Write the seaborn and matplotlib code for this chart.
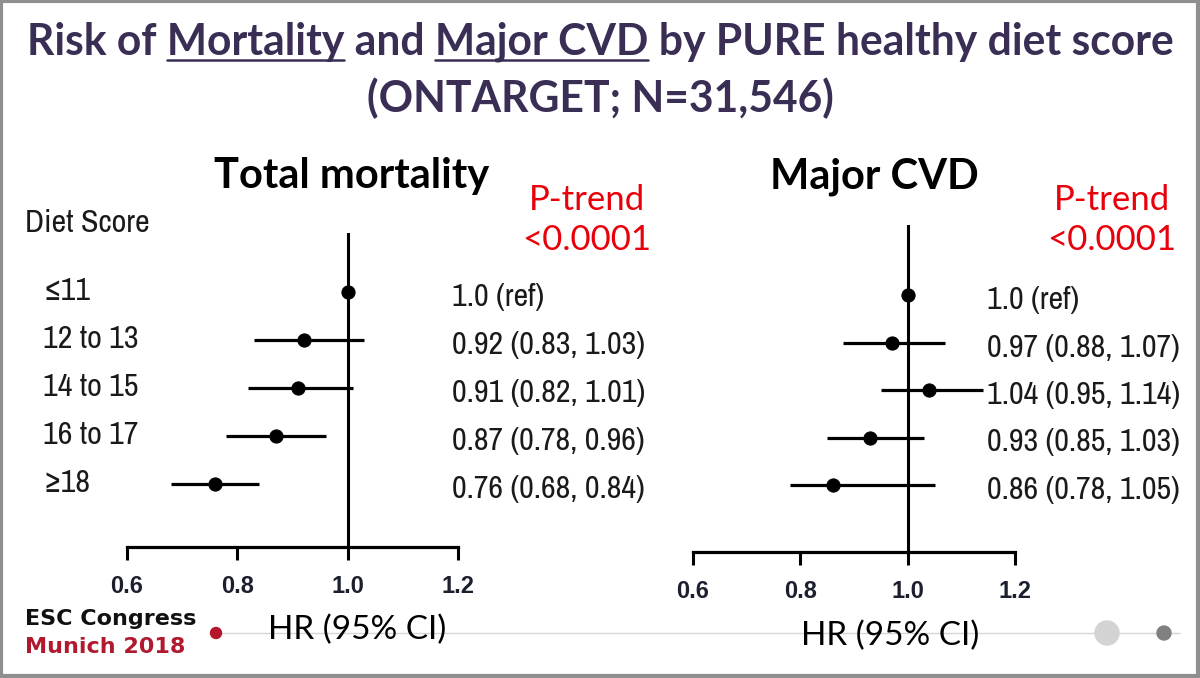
import os
import matplotlib
matplotlib.use("Agg")
import matplotlib.pyplot as plt
import matplotlib.transforms as mtransforms
import matplotlib.font_manager as fm
from matplotlib.font_manager import FontProperties
from matplotlib.patches import Rectangle, Circle
from matplotlib.lines import Line2D
import seaborn as sns
import pandas as pd

# ---------------- data ----------------
categories = ["\u226411", "12 to 13", "14 to 15", "16 to 17", "\u226518"]
mort_hr = [1.00, 0.92, 0.91, 0.87, 0.76]
mort_lo = [1.00, 0.83, 0.82, 0.78, 0.68]
mort_hi = [1.00, 1.03, 1.01, 0.96, 0.84]
cvd_hr = [1.00, 0.97, 1.04, 0.93, 0.86]
cvd_lo = [1.00, 0.88, 0.95, 0.85, 0.78]
cvd_hi = [1.00, 1.07, 1.14, 1.03, 1.05]
xticks = [0.6, 0.8, 1.0, 1.2]
xtick_labels = ["0.6", "0.8", "1.0", "1.2"]
title_line1 = "Risk of Mortality and Major CVD by PURE healthy diet score"
title_line2 = "(ONTARGET; N=31,546)"
underlined = ["Mortality", "Major CVD"]
panel_titles = ["Total mortality", "Major CVD"]
p_trend_lines = ["P-trend", "<0.0001"]
axis_caption = "HR (95% CI)"

sns.set_theme(style="white")
plt.rcParams["font.family"] = ["Lato", "DejaVu Sans"]

W, H = 1200, 678
fig = plt.figure(figsize=(12, 6.78), dpi=100)
fig.patch.set_facecolor("white")
renderer = fig.canvas.get_renderer()


def fx(x):
    return x / W


def fy(y):
    return 1 - y / H


def _weight(f):
    w = f.weight
    if isinstance(w, str):
        w = fm.weight_dict.get(w, 400)
    return int(w)


def measure_fp(s, fp):
    t = fig.text(0, 0, s, fontproperties=fp)
    w = t.get_window_extent(renderer).width
    t.remove()
    return w


def _sans_ok(f):
    base = os.path.basename(f.fname)
    bad = ("Serif", "Mono", "Slab", "Math", "CJK")
    return not any(b in f.name or b in base for b in bad)


def pick_regular(sample, size, target_w):
    """Pick an installed Arial-Narrow-like sans face whose width best fits."""
    cands, seen = [], set()
    for f in fm.fontManager.ttflist:
        base = os.path.basename(f.fname)
        narrowish = (f.stretch not in ("normal", 500)
                     or "Narrow" in f.name or "Narrow" in base
                     or "Condensed" in f.name or "Condensed" in base)
        if not (narrowish or f.name in ("Liberation Sans", "Roboto")):
            continue
        if not _sans_ok(f) or f.style != "normal" or abs(_weight(f) - 400) > 50:
            continue
        if f.fname in seen:
            continue
        seen.add(f.fname)
        cands.append(f)
    best, best_err, best_w = None, None, None
    for f in cands:
        try:
            w = measure_fp(sample, FontProperties(fname=f.fname, size=size))
        except Exception:
            continue
        err = abs(w - target_w)
        if best_err is None or err < best_err:
            best, best_err, best_w = f, err, w
    if best is None:
        fp = FontProperties(family="Liberation Sans", size=size)
        best_w = measure_fp(sample, fp)
    else:
        fp = FontProperties(fname=best.fname, size=size)
    fp.set_size(size * max(0.85, min(1.1, target_w / best_w)))
    return fp, best


def pick_bold_like(entry, sample, size, target_w):
    fp = None
    if entry is not None:
        for f in fm.fontManager.ttflist:
            if (f.name == entry.name and f.style == "normal"
                    and f.stretch == entry.stretch and 700 <= _weight(f) <= 750):
                fp = FontProperties(fname=f.fname, size=size)
                break
    if fp is None:
        fp = FontProperties(family="Liberation Sans", weight="bold", size=size)
    w = measure_fp(sample, fp)
    fp.set_size(size * max(0.8, min(1.1, target_w / w)))
    return fp


FP_VAL, _entry = pick_regular("0.92 (0.83, 1.03)", 23, 193)
FP_TICK = pick_bold_like(_entry, "0.6 0.8 1.0", 15.5, 113)
TITLE_COL = "#3a2e55"


def value_text(hr, lo, hi, i):
    if i == 0:
        return "1.0 (ref)"
    return f"{hr:.2f} ({lo:.2f}, {hi:.2f})"


def make_panel(left_px, right_px, top_px, bottom_px, row0_px, row4_px,
               hr, lo, hi, values_x_px, show_labels):
    ax = fig.add_axes([fx(left_px), fy(bottom_px),
                       (right_px - left_px) / W, (bottom_px - top_px) / H])
    step = (row4_px - row0_px) / 4.0
    y_top = -(row0_px - top_px) / step
    y_bot = 4 + (bottom_px - row4_px) / step
    df = pd.DataFrame({"row": range(len(categories)), "hr": hr,
                       "lo": lo, "hi": hi, "cat": categories})
    ax.hlines(df["row"], df["lo"], df["hi"], color="black", lw=2.3, zorder=2)
    ax.axvline(1.0, color="black", lw=2.2, zorder=1)
    sns.scatterplot(data=df, x="hr", y="row", ax=ax, color="black",
                    edgecolor="black", s=90, zorder=3, legend=False)
    ax.set_ylim(y_bot, y_top)
    ax.set_xlabel("")
    ax.set_ylabel("")
    ax.set_yticks([])
    ax.set_xticks(xticks)
    ax.set_xticklabels(xtick_labels)
    for s in ["left", "top", "right"]:
        ax.spines[s].set_visible(False)
    ax.spines["bottom"].set_linewidth(2.3)
    ax.spines["bottom"].set_color("black")
    ax.tick_params(axis="x", bottom=True, direction="out", length=9,
                   width=2.2, pad=11, colors="black")
    for lab in ax.get_xticklabels():
        lab.set_fontproperties(FP_TICK)
        lab.set_color("#1b1f2e")
    ax.patch.set_alpha(0)
    trans = mtransforms.blended_transform_factory(fig.transFigure, ax.transData)
    off = mtransforms.ScaledTranslation(0, -5 / 100, fig.dpi_scale_trans)
    for i in range(len(categories)):
        ax.text(fx(values_x_px), i, value_text(hr[i], lo[i], hi[i], i),
                transform=trans + off, ha="left", va="center",
                fontproperties=FP_VAL, color="#1a1a1a")
    if show_labels:
        off2 = mtransforms.ScaledTranslation(0, 1 / 100, fig.dpi_scale_trans)
        for i, c in enumerate(categories):
            ax.text(fx(43), i, c, transform=trans + off2, ha="left",
                    va="center", fontproperties=FP_VAL, color="#1a1a1a")
    return ax


ax1 = make_panel(127, 458, 233, 547, 292, 484,
                 mort_hr, mort_lo, mort_hi, 452, True)
ax2 = make_panel(693, 1015, 225, 552, 295, 485,
                 cvd_hr, cvd_lo, cvd_hi, 987, False)

# "Diet Score"
fig.text(fx(25), fy(223), "Diet Score", ha="left", va="center",
         fontproperties=FP_VAL, color="#1a1a1a")

# panel titles
fig.text(fx(352), fy(188), panel_titles[0], ha="center", va="baseline",
         fontsize=30, fontweight="bold", color="black")
fig.text(fx(874), fy(188), panel_titles[1], ha="center", va="baseline",
         fontsize=30, fontweight="bold", color="black")

# P-trend
for xc in (587, 1112):
    fig.text(fx(xc), fy(210), p_trend_lines[0], ha="center", va="baseline",
             fontsize=25, color="#e8000b")
    fig.text(fx(xc), fy(250), p_trend_lines[1], ha="center", va="baseline",
             fontsize=25, color="#e8000b")

# title
tprops = dict(fontsize=30.7, fontweight="bold", color=TITLE_COL)
t1 = fig.text(0.5, fy(54), title_line1, ha="center", va="baseline", **tprops)
fig.text(0.5, fy(112), title_line2, ha="center", va="baseline", **tprops)


def text_width(s):
    tmp = fig.text(0, 0, s, **tprops)
    w = tmp.get_window_extent(renderer).width
    tmp.remove()
    return w


bb = t1.get_window_extent(renderer)
space_w = text_width("x x") - text_width("xx")
for word in underlined:
    idx = title_line1.index(word)
    prefix = title_line1[:idx].rstrip()
    start = bb.x0 + text_width(prefix) + space_w
    end = start + text_width(word)
    yline = H - 60
    fig.add_artist(Line2D([start / W, end / W], [yline / H, yline / H],
                          transform=fig.transFigure, color=TITLE_COL, lw=1.8))

# footer decorations
fig.add_artist(Line2D([fx(222), fx(1180)], [fy(633), fy(633)],
                      transform=fig.transFigure, color="#d6d6d6", lw=1.0, zorder=1))
for (cx, cy, r, col) in [(216, 633, 5.5, "#b5162b"), (1107, 633, 12, "#d3d3d3"),
                         (1164, 633, 7, "#808080")]:
    fig.add_artist(Circle((cx / 100, (H - cy) / 100), r / 100,
                          transform=fig.dpi_scale_trans, color=col, zorder=2))

# x-axis captions
fig.text(fx(357), fy(639), axis_caption, ha="center", va="baseline",
         fontsize=24, color="black", zorder=5)
fig.text(fx(890), fy(645), axis_caption, ha="center", va="baseline",
         fontsize=24, color="black", zorder=5)

fig.text(fx(25), fy(625), "ESC Congress", ha="left", va="baseline",
         fontsize=16, fontweight="bold", family=["DejaVu Sans"],
         color="#111111")
fig.text(fx(25), fy(653), "Munich 2018", ha="left", va="baseline",
         fontsize=16, fontweight="bold", family=["DejaVu Sans"],
         color="#b0192e")

# frame
fig.add_artist(Rectangle((0.001, 0.003), 0.997, 0.995, transform=fig.transFigure,
                         fill=False, edgecolor="#8f8f8f", lw=3.0))

fig.savefig("out.png", dpi=100)
